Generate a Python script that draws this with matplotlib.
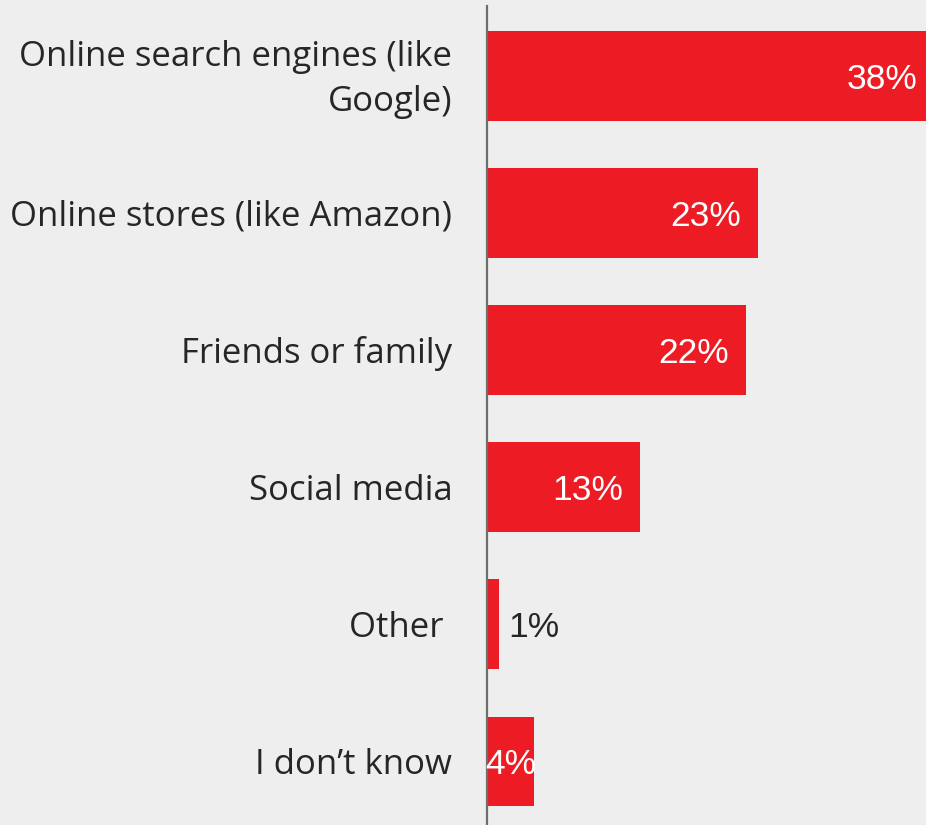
import matplotlib
matplotlib.use("Agg")
import matplotlib.pyplot as plt
import matplotlib.transforms as mtransforms

categories = [
    "Online search engines (like\nGoogle)",
    "Online stores (like Amazon)",
    "Friends or family",
    "Social media",
    "Other ",
    "I don\u2019t know",
]
values = [38, 23, 22, 13, 1, 4]
value_labels = ["38%", "23%", "22%", "13%", "1%", "4%"]

BG = "#EEEEEE"
BAR = "#ED1C24"
TEXT = "#262626"

fig = plt.figure(figsize=(9.26, 8.25), dpi=100, facecolor=BG)
ax = fig.add_axes([487 / 926, 0.0, 1 - 487 / 926, (825 - 6) / 825])
ax.set_facecolor(BG)

y = list(range(len(categories)))
ax.barh(y, values, height=0.656, color=BAR, zorder=2)

ax.set_xlim(0, 37.3)
ax.set_ylim(5.463, -0.51)

ax.set_yticks(y)
ax.set_yticklabels(categories, fontsize=25, color=TEXT, family=["Open Sans", "DejaVu Sans"],
                   ha="right", va="center", linespacing=1.4)
ax.tick_params(axis="y", length=0, pad=25)
ax.set_xticks([])

# nudge category labels slightly downward
shift = mtransforms.ScaledTranslation(0, -2.5 / 72, fig.dpi_scale_trans)
for lbl in ax.get_yticklabels():
    lbl.set_transform(lbl.get_transform() + shift)

for side in ["top", "right", "bottom"]:
    ax.spines[side].set_visible(False)
ax.spines["left"].set_color("#6E6E6E")
ax.spines["left"].set_linewidth(1.6)
ax.spines["left"].set_zorder(3)

LABEL_FS = 25.5
for yi, v, lab in zip(y, values, value_labels):
    if v <= 2:
        ax.annotate(lab, (v, yi), xytext=(6.5, -2.5), textcoords="offset points",
                    ha="left", va="center", fontsize=LABEL_FS, color=TEXT,
                    family="Liberation Sans", zorder=4)
    elif v < 10:
        ax.annotate(lab, (v / 2, yi), xytext=(0, -2.5), textcoords="offset points",
                    ha="center", va="center", fontsize=LABEL_FS,
                    color="white", family="Liberation Sans", zorder=4)
    else:
        ax.annotate(lab, (v, yi), xytext=(-12, -2.5), textcoords="offset points",
                    ha="right", va="center", fontsize=LABEL_FS, color="white",
                    family="Liberation Sans", zorder=4, annotation_clip=False)

fig.savefig("out.png", dpi=100, facecolor=BG)
